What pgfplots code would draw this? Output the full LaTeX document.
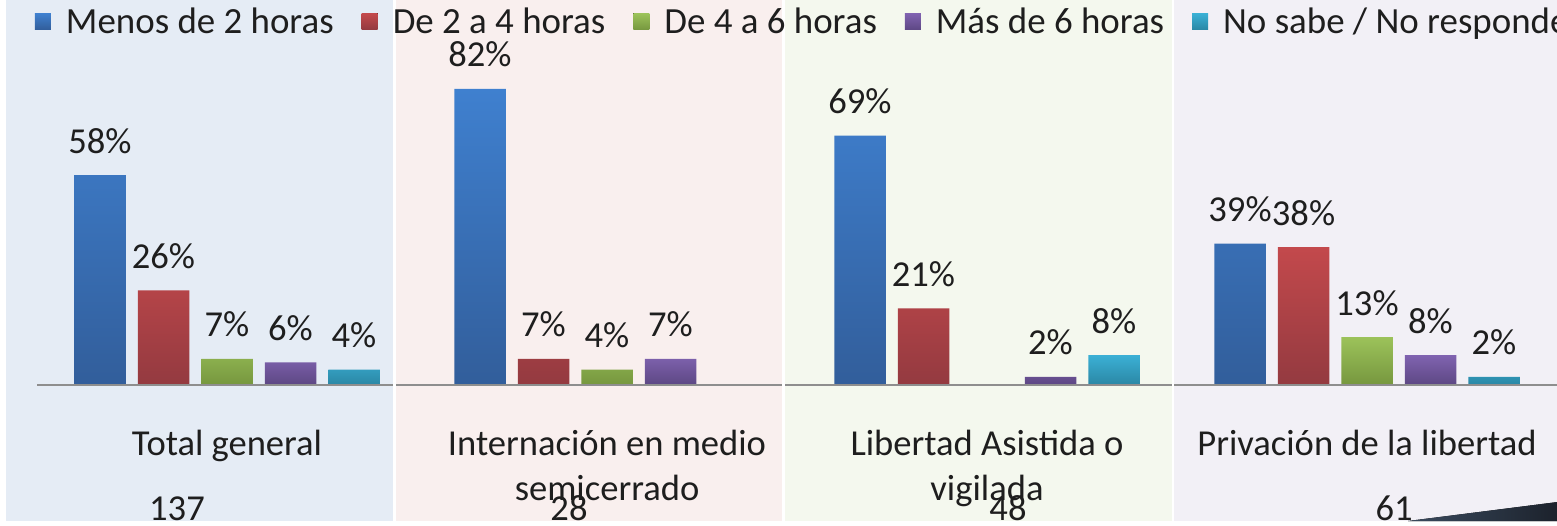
\documentclass[border=0pt]{standalone}
\usepackage{fontspec}
\setmainfont{Carlito}
\usepackage{pgfplots}
\pgfplotsset{compat=1.18}
\definecolor{c1t}{HTML}{3F80CF}
\definecolor{c1b}{HTML}{325E9B}
\definecolor{c2t}{HTML}{C3494C}
\definecolor{c2b}{HTML}{943A40}
\definecolor{c3t}{HTML}{9CC25A}
\definecolor{c3b}{HTML}{77983F}
\definecolor{c4t}{HTML}{8063B0}
\definecolor{c4b}{HTML}{5E4885}
\definecolor{c5t}{HTML}{3BB0D5}
\definecolor{c5b}{HTML}{2B88A6}
\definecolor{panA}{HTML}{E5ECF5}
\definecolor{panB}{HTML}{F9EFEE}
\definecolor{panC}{HTML}{F4F8EE}
\definecolor{panD}{HTML}{F2F0F6}
\definecolor{basegray}{HTML}{8E8E8E}
\definecolor{txt}{HTML}{1E1E1E}
\begin{document}
\begin{tikzpicture}
\useasboundingbox (0,0) rectangle (155.7mm,52.5mm);
\clip (0,0) rectangle (155.7mm,52.5mm);
\begin{axis}[
  at={(0,0)}, anchor=south west,
  scale only axis, width=155.7mm, height=52.5mm,
  xmin=0, xmax=1557, ymin=-39.1667, ymax=106.6667,
  clip=false, axis on top=true,
  ybar=1.2mm, bar width=5.15mm,
  axis line style={draw=none}, major tick length=0pt, ytick=\empty,
  xtick={227,607,987,1367},
  xticklabels={{Total general\\\mbox{}},{Internación en medio\\semicerrado},{Libertad Asistida o\\vigilada},{Privación de la libertad\\\mbox{}}},
  xticklabel style={align=center, anchor=base, yshift=2.5mm, inner sep=0pt, font=\fontsize{10.4}{12.8}\selectfont, text=txt},
  /pgf/number format/assume math mode=true,
  nodes near coords={\pgfmathprintnumber{\pgfplotspointmeta}\%},
  every node near coord/.append style={font=\fontsize{10.4}{12}\selectfont, text=txt, anchor=south, inner sep=0pt, yshift=2.1mm},
  legend columns=5,
  legend cell align=left,
  legend style={at={(axis cs:35,100.7)}, anchor=west, draw=none, fill=none, inner sep=0pt, outer sep=0pt,
    font=\fontsize{10.5}{12}\selectfont, text=txt,
    column sep=1.5mm, /tikz/every even column/.append style={column sep=2.8mm},
    nodes={inner sep=0pt, text height=0.7em, text depth=0pt}},
]
% panels
\fill[panA] (axis cs:6,106.67) rectangle (axis cs:393,-38.06);
\fill[panB] (axis cs:396,106.67) rectangle (axis cs:782,-38.06);
\fill[panC] (axis cs:785,106.67) rectangle (axis cs:1172,-38.06);
\fill[panD] (axis cs:1174,106.67) rectangle (axis cs:1557,-38.06);

\addplot[draw=none, top color=c1t, bottom color=c1b,
  legend image code/.code={\fill[top color=c1t,bottom color=c1b] (0mm,-0.8mm) rectangle (1.6mm,0.8mm);}]
  coordinates {(227,58) (607,82) (987,69) (1367,39)};
\addlegendentry{Menos de 2 horas}
\addplot[draw=none, top color=c2t, bottom color=c2b,
  legend image code/.code={\fill[top color=c2t,bottom color=c2b] (0mm,-0.8mm) rectangle (1.6mm,0.8mm);}]
  coordinates {(227,26) (607,7) (987,21) (1367,38)};
\addlegendentry{De 2 a 4 horas}
\addplot[draw=none, top color=c3t, bottom color=c3b,
  legend image code/.code={\fill[top color=c3t,bottom color=c3b] (0mm,-0.8mm) rectangle (1.6mm,0.8mm);}]
  coordinates {(227,7) (607,4) (1367,13)};
\addlegendentry{De 4 a 6 horas}
\addplot[draw=none, top color=c4t, bottom color=c4b,
  legend image code/.code={\fill[top color=c4t,bottom color=c4b] (0mm,-0.8mm) rectangle (1.6mm,0.8mm);}]
  coordinates {(227,6) (607,7) (987,2) (1367,8)};
\addlegendentry{Más de 6 horas}
\addplot[draw=none, top color=c5t, bottom color=c5b,
  legend image code/.code={\fill[top color=c5t,bottom color=c5b] (0mm,-0.8mm) rectangle (1.6mm,0.8mm);}]
  coordinates {(227,4) (987,8) (1367,2)};
\addlegendentry{No sabe / No responde}

% baseline segments
\draw[basegray, line width=0.2mm] (axis cs:37,-0.3) -- (axis cs:393,-0.3);
\draw[basegray, line width=0.2mm] (axis cs:396,-0.3) -- (axis cs:782,-0.3);
\draw[basegray, line width=0.2mm] (axis cs:785,-0.3) -- (axis cs:1172,-0.3);
\draw[basegray, line width=0.2mm] (axis cs:1174,-0.3) -- (axis cs:1557,-0.3);

% counts
\fill[left color={rgb,255:red,58;green,74;blue,94}, right color={rgb,255:red,28;green,34;blue,44}]
  (axis cs:1408,-38.06) -- (axis cs:1557,-32.8) -- (axis cs:1557,-38.06) -- cycle;
\node[anchor=base, inner sep=0pt, font=\fontsize{10.4}{12}\selectfont, text=txt] at (axis cs:177,-37.9) {137};
\node[anchor=base, inner sep=0pt, font=\fontsize{10.4}{12}\selectfont, text=txt] at (axis cs:569,-37.9) {28};
\node[anchor=base, inner sep=0pt, font=\fontsize{10.4}{12}\selectfont, text=txt] at (axis cs:1008,-37.9) {48};
\node[anchor=base, inner sep=0pt, font=\fontsize{10.4}{12}\selectfont, text=txt] at (axis cs:1394,-37.9) {61};
\end{axis}
\end{tikzpicture}
\end{document}
